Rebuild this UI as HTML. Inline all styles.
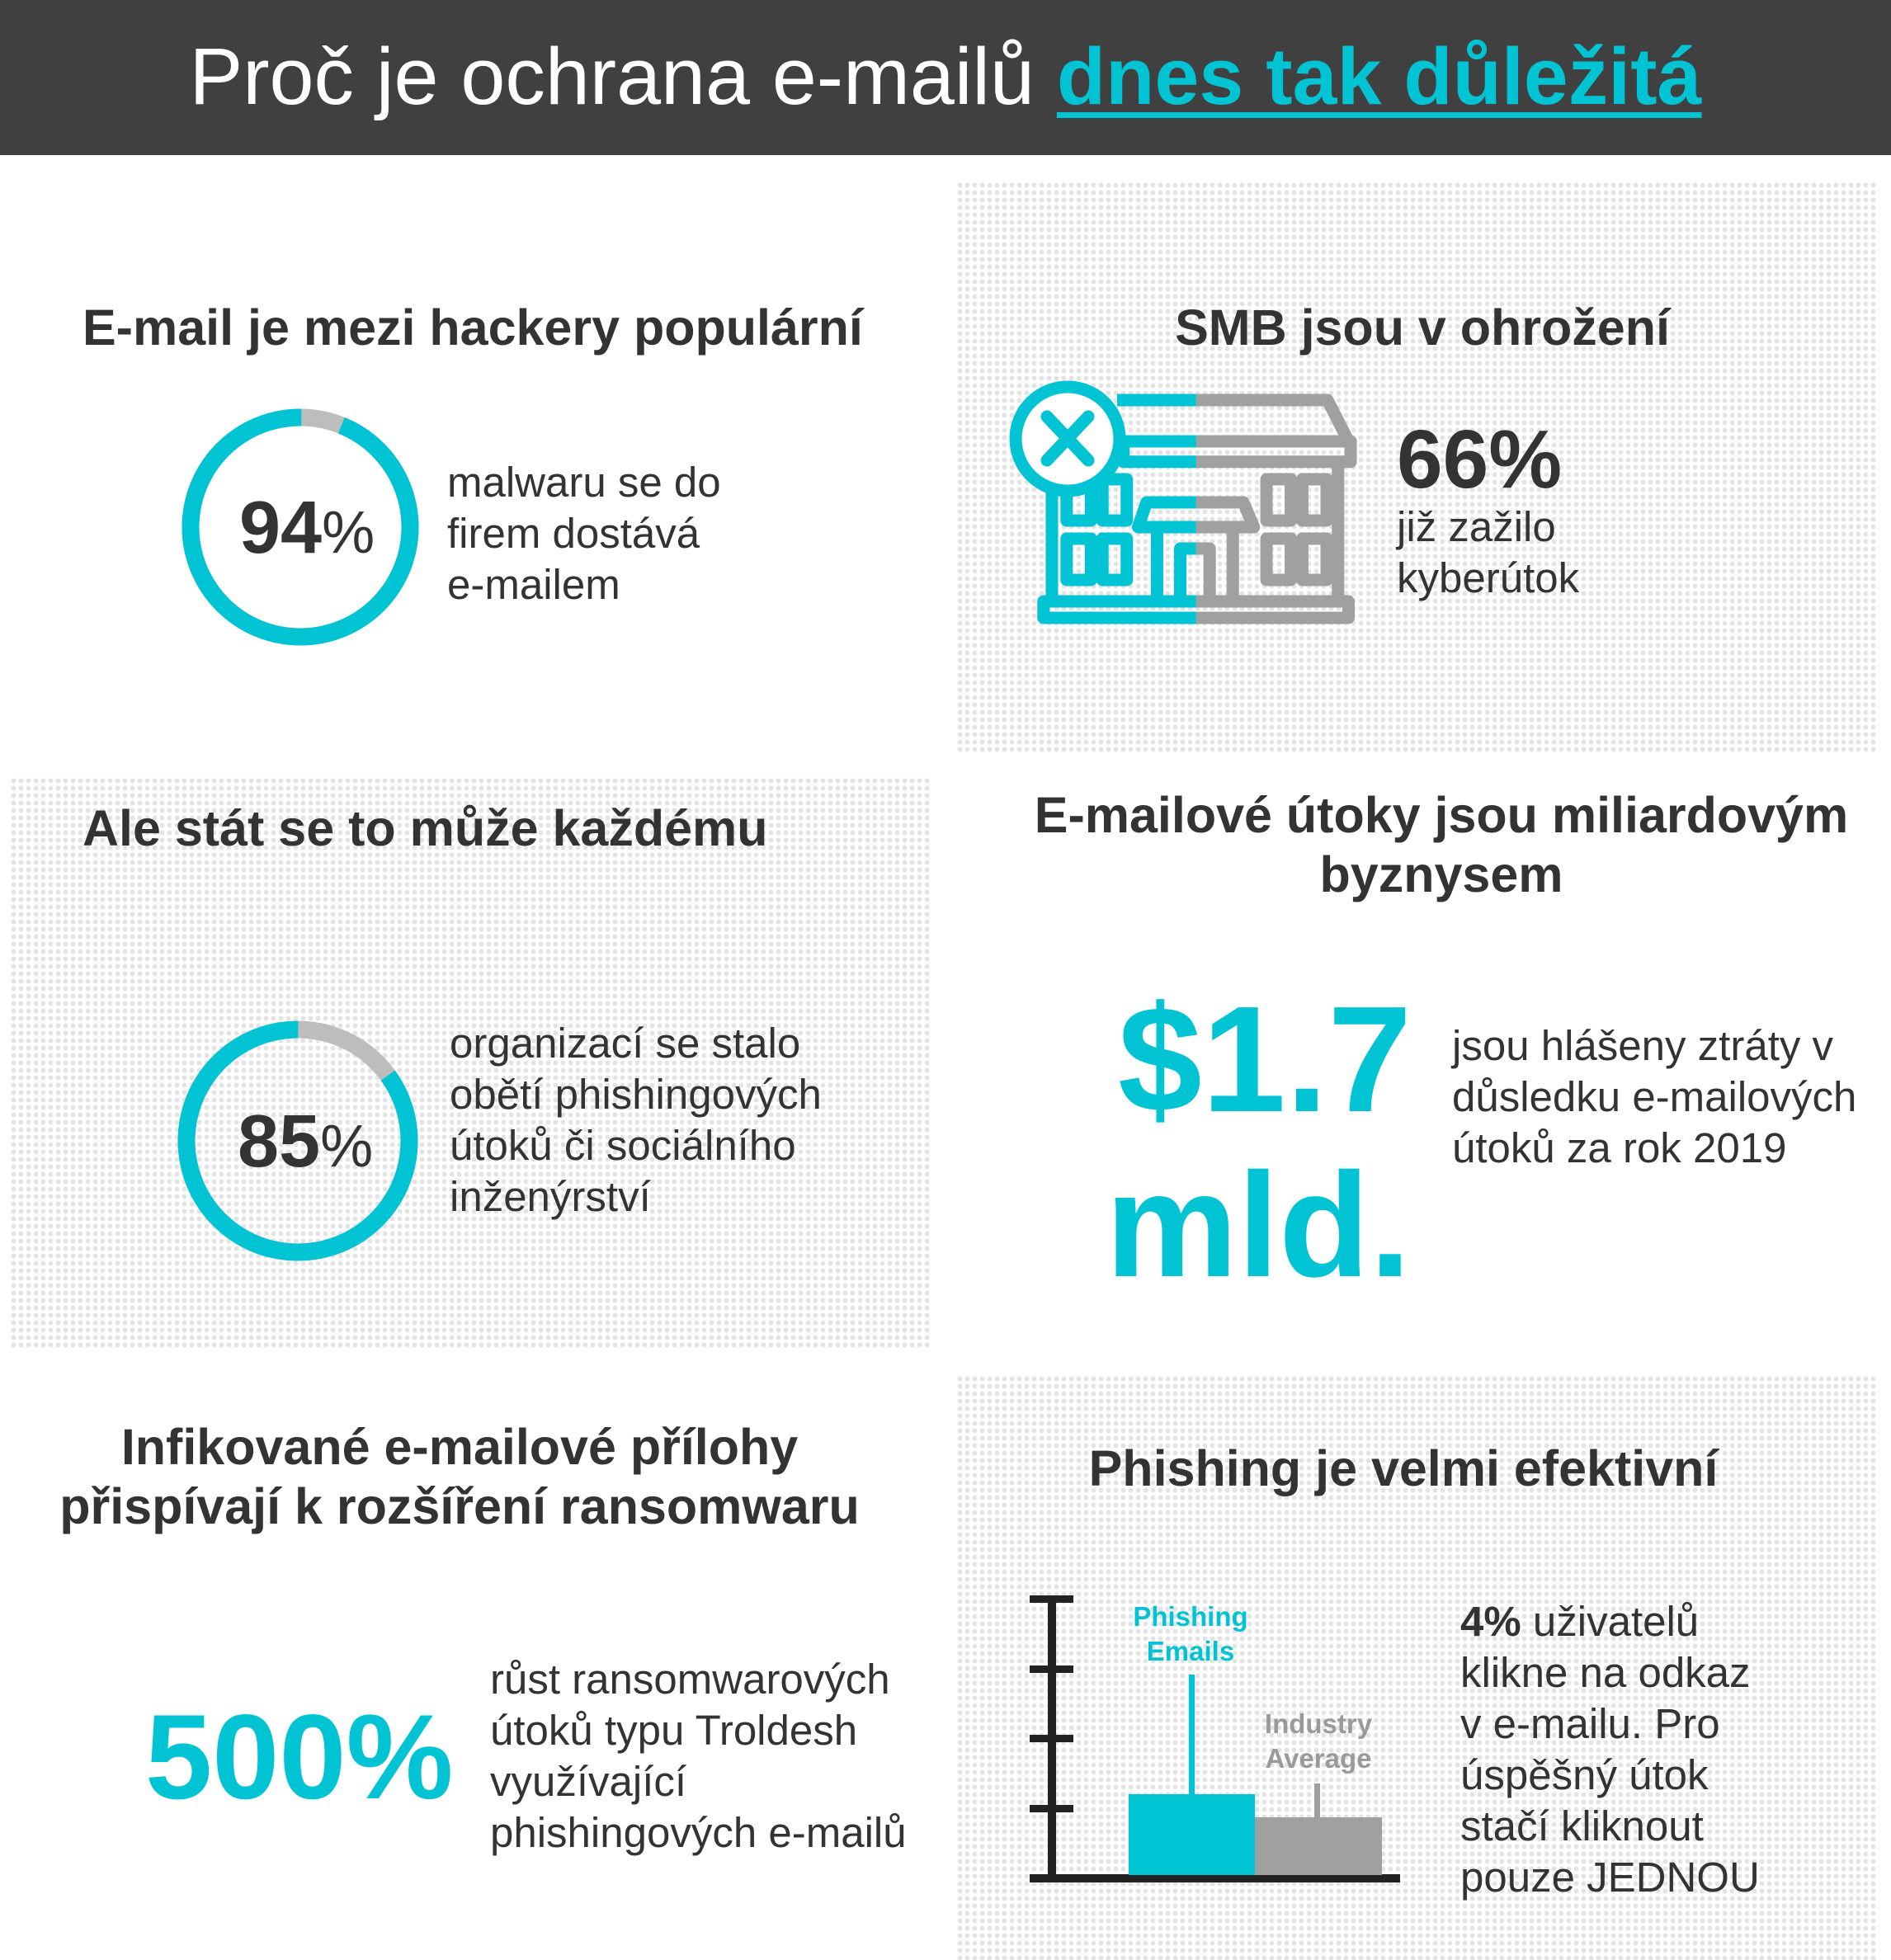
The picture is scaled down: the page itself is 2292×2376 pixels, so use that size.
<!DOCTYPE html>
<html><head><meta charset="utf-8"><style>
*{margin:0;padding:0;box-sizing:border-box}
body{width:2292px;height:2376px;background:#fff;position:relative;overflow:hidden;font-family:"Liberation Sans",Arial,sans-serif;color:#333}
.hdr{position:absolute;left:0;top:0;width:2292px;height:188px;background:#404040}
.title{position:absolute;left:0;width:2292px;top:38px;text-align:center;font-size:97px;line-height:110px;color:#fff}
.title b{color:#00c4d4;text-decoration:underline;text-decoration-thickness:7px;text-underline-offset:10px}
.dots{position:absolute;background-color:#fff;background-image:radial-gradient(circle,#e3e3e3 2.6px,transparent 3.2px);background-size:9px 9px}
.t{position:absolute;white-space:nowrap}
.h{font-weight:bold;font-size:61px;line-height:72px}
.p{font-size:51px;line-height:62px}
.c{text-align:center}
</style></head><body>
<div class="hdr"></div>
<div class="title">Proč je ochrana e-mailů <b>dnes tak důležitá</b></div>

<div class="dots" style="left:1159px;top:220px;width:1114px;height:694px"></div>
<div class="dots" style="left:12px;top:942px;width:1117px;height:694px"></div>
<div class="dots" style="left:1159px;top:1667px;width:1114px;height:709px"></div>

<div class="t h" style="left:100px;top:361px">E-mail je mezi hackery populární</div>
<svg style="position:absolute;left:0;top:0" width="2292" height="2376">
<circle cx="364" cy="639" r="133" fill="none" stroke="#bdbdbd" stroke-width="21"/>
<circle cx="364" cy="639" r="133" fill="none" stroke="#00c4d4" stroke-width="21" stroke-dasharray="785.5 50" transform="rotate(-68 364 639)"/>
<circle cx="361" cy="1383" r="135" fill="none" stroke="#bdbdbd" stroke-width="21"/>
<circle cx="361" cy="1383" r="135" fill="none" stroke="#00c4d4" stroke-width="21" stroke-dasharray="721 200" transform="rotate(-36 361 1383)"/>
<!-- chart -->
<g fill="#222">
<rect x="1270" y="1934" width="10" height="345"/>
<rect x="1248" y="1934" width="53" height="9"/>
<rect x="1248" y="2019" width="53" height="9"/>
<rect x="1248" y="2103" width="53" height="9"/>
<rect x="1248" y="2188" width="53" height="9"/>
<rect x="1248" y="2272" width="449" height="10"/>
</g>
<rect x="1368" y="2175" width="153" height="98" fill="#00c4d4"/>
<rect x="1441" y="2030" width="7" height="146" fill="#00c4d4"/>
<rect x="1521" y="2203" width="154" height="70" fill="#a0a0a0"/>
<rect x="1593" y="2162" width="7" height="42" fill="#a0a0a0"/>
<g font-family="Liberation Sans,Arial,sans-serif" font-weight="bold" font-size="33" text-anchor="middle">
<text x="1443" y="1971" fill="#00c4d4">Phishing</text>
<text x="1443" y="2013" fill="#00c4d4">Emails</text>
<text x="1598" y="2101" fill="#9a9a9a">Industry</text>
<text x="1598" y="2143" fill="#9a9a9a">Average</text>
</g>
<!-- building -->
<defs>
<clipPath id="cl"><rect x="0" y="0" width="588" height="2000"/></clipPath>
<clipPath id="cr"><rect x="588" y="0" width="1000" height="2000"/></clipPath>
<g id="bld" fill="none" stroke-width="15" stroke-linejoin="round">
<path vector-effect="non-scaling-stroke" d="M400 775 L900 775 L950 900"/>
<rect vector-effect="non-scaling-stroke" x="415" y="900" width="540" height="62"/>
<path vector-effect="non-scaling-stroke" d="M245 962 L245 1385 M925 962 L925 1385"/>
<rect vector-effect="non-scaling-stroke" x="280" y="1015" width="58" height="125"/><rect vector-effect="non-scaling-stroke" x="365" y="1015" width="58" height="125"/>
<rect vector-effect="non-scaling-stroke" x="280" y="1195" width="58" height="125"/><rect vector-effect="non-scaling-stroke" x="365" y="1195" width="58" height="125"/>
<rect vector-effect="non-scaling-stroke" x="755" y="1015" width="58" height="125"/><rect vector-effect="non-scaling-stroke" x="840" y="1015" width="58" height="125"/>
<rect vector-effect="non-scaling-stroke" x="755" y="1195" width="58" height="125"/><rect vector-effect="non-scaling-stroke" x="840" y="1195" width="58" height="125"/>
<path vector-effect="non-scaling-stroke" d="M470 1085 L700 1085 L725 1160 L450 1160 Z"/>
<path vector-effect="non-scaling-stroke" d="M495 1160 L495 1380 M675 1160 L675 1380"/>
<path vector-effect="non-scaling-stroke" d="M550 1380 L550 1225 L620 1225 L620 1380"/>
<rect vector-effect="non-scaling-stroke" x="225" y="1385" width="725" height="50"/>
</g>
</defs>
<g transform="translate(1150 175) scale(0.51 0.4)">
<g clip-path="url(#cl)"><use href="#bld" stroke="#00c4d4"/></g>
<g clip-path="url(#cr)"><use href="#bld" stroke="#a0a0a0"/></g>
</g>
<circle cx="1294" cy="532" r="63" fill="#fff" stroke="#00c4d4" stroke-width="15"/>
<path d="M1269 505 L1319 558 M1319 505 L1269 558" stroke="#00c4d4" stroke-width="15" stroke-linecap="round"/>
</svg>
<div class="t" style="left:290px;top:590px;font-size:90px;line-height:100px"><b>94</b><span style="font-size:72px">%</span></div>
<div class="t p" style="left:542px;top:554px">malwaru se do<br>firem dostává<br>e-mailem</div>

<div class="t h c" style="left:1159px;width:1130px;top:361px">SMB jsou v ohrožení</div>
<div class="t" style="left:1693px;top:500px;font-size:100px;line-height:114px;font-weight:bold">66%</div>
<div class="t p" style="left:1693px;top:608px">již zažilo<br>kyberútok</div>

<div class="t h" style="left:100px;top:968px">Ale stát se to může každému</div>
<div class="t" style="left:288px;top:1334px;font-size:90px;line-height:100px"><b>85</b><span style="font-size:72px">%</span></div>
<div class="t p" style="left:545px;top:1234px">organizací se stalo<br>obětí phishingových<br>útoků či sociálního<br>inženýrství</div>

<div class="t h c" style="left:1159px;width:1176px;top:952px">E-mailové útoky jsou miliardovým<br>byznysem</div>
<div class="t" style="left:1355px;top:1186px;font-size:183px;line-height:195px;font-weight:bold;color:#00c4d4">$1.7</div>
<div class="t" style="left:1340px;top:1388px;font-size:180px;line-height:195px;font-weight:bold;color:#00c4d4">mld.</div>
<div class="t p" style="left:1760px;top:1237px">jsou hlášeny ztráty v<br>důsledku e-mailových<br>útoků za rok 2019</div>

<div class="t h c" style="left:0;width:1114px;top:1718px">Infikované e-mailové přílohy<br>přispívají k rozšíření ransomwaru</div>
<div class="t" style="left:176px;top:2050px;font-size:146px;line-height:160px;font-weight:bold;color:#00c4d4">500%</div>
<div class="t p" style="left:594px;top:2005px">růst ransomwarových<br>útoků typu Troldesh<br>využívající<br>phishingových e-mailů</div>

<div class="t h c" style="left:1159px;width:1084px;top:1744px">Phishing je velmi efektivní</div>
<div class="t p" style="left:1770px;top:1935px"><b>4%</b> uživatelů<br>klikne na odkaz<br>v e-mailu. Pro<br>úspěšný útok<br>stačí kliknout<br>pouze JEDNOU</div>
</body></html>
